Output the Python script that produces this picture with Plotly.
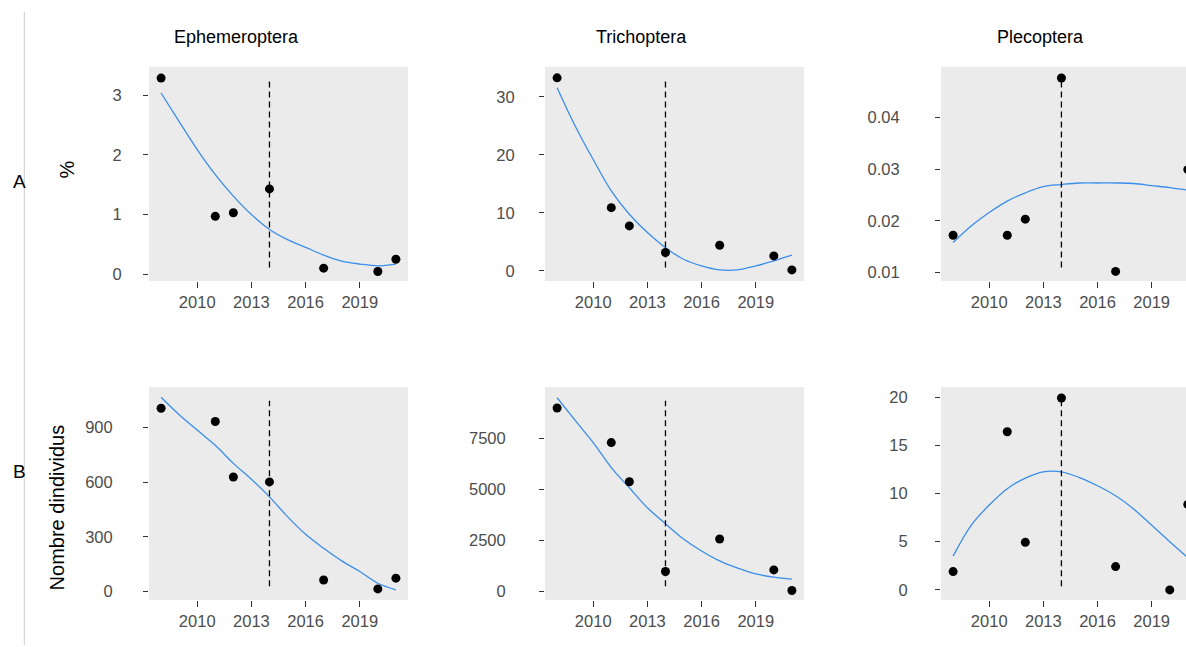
import plotly.graph_objects as go

# ---------------- data ----------------
years = [2008, 2011, 2012, 2014, 2017, 2020, 2021]
ephem_pct = [3.29, 0.97, 1.03, 1.43, 0.10, 0.045, 0.25]
trich_pct = [33.3, 10.9, 7.75, 3.16, 4.42, 2.58, 0.17]
pleco_pct = [0.0172, 0.0172, 0.0203, 0.0476, 0.0102, None, 0.0299]
ephem_n = [1007, 934, 629, 602, 63, 14, 73]
trich_n = [9002, 7305, 5382, 978, 2573, 1057, 49]
pleco_n = [1.9, 16.4, 4.93, 19.9, 2.42, 0.0, 8.86]

fit_years = [2008, 2009, 2010, 2011, 2012, 2013, 2014, 2015, 2016, 2017, 2018, 2019, 2020, 2021]
ephem_pct_fit = [3.04, 2.56, 2.09, 1.67, 1.31, 1.00, 0.75, 0.58, 0.45, 0.32, 0.22, 0.17, 0.14, 0.17]
trich_pct_fit = [31.6, 25.0, 19.2, 13.8, 9.76, 6.6, 4.0, 2.0, 0.86, 0.17, 0.17, 0.86, 1.72, 2.7]
pleco_pct_fit = [0.0158, 0.0190, 0.0216, 0.0238, 0.0254, 0.0266, 0.0270, 0.0273, 0.0273, 0.0273,
                 0.0272, 0.0268, 0.0264, 0.0259]
ephem_n_fit = [1067, 971, 887, 803, 704, 617, 520, 411, 314, 237, 168, 110, 45, 9]
trich_n_fit = [9506, 8395, 7305, 6081, 5088, 4110, 3327, 2573, 1986, 1497, 1140, 861, 700, 602]
pleco_n_fit = [3.5, 6.7, 8.8, 10.5, 11.6, 12.25, 12.25, 11.65, 10.8, 9.76, 8.4, 6.7, 5.0, 3.35]

break_year = 2014
x_ticks = [2010, 2013, 2016, 2019]
col_titles = ["Ephemeroptera", "Trichoptera", "Plecoptera"]
row_labels = ["A", "B"]
y_titles = ["%", "Nombre dindividus"]

y_ticks = [
    [0, 1, 2, 3],
    [0, 10, 20, 30],
    [0.01, 0.02, 0.03, 0.04],
    [0, 300, 600, 900],
    [0, 2500, 5000, 7500],
    [0, 5, 10, 15, 20],
]
y_ticktext = [
    ["0", "1", "2", "3"],
    ["0", "10", "20", "30"],
    ["0.01", "0.02", "0.03", "0.04"],
    ["0", "300", "600", "900"],
    ["0", "2500", "5000", "7500"],
    ["0", "5", "10", "15", "20"],
]
y_ranges = [
    [-0.117, 3.48],
    [-1.77, 35.2],
    [0.00832, 0.04977],
    [-46, 1123],
    [-411, 10029],
    [-1.03, 21.03],
]
standoffs = [18, 21, 32, 27, 30, 24]

# ---------------- layout geometry ----------------
W, H = 1186, 647
col_px = [(149, 408), (545, 804), (941, 1186)]
x_ranges = [[2007.33, 2021.67], [2007.33, 2021.67], [2007.33, 2020.9]]
row_px = [(67, 282), (388.3, 601.7)]

FONT = "Liberation Sans, Arial, sans-serif"
BLUE = "#3A8EEB"

panels = [
    (ephem_pct, ephem_pct_fit),
    (trich_pct, trich_pct_fit),
    (pleco_pct, pleco_pct_fit),
    (ephem_n, ephem_n_fit),
    (trich_n, trich_n_fit),
    (pleco_n, pleco_n_fit),
]

fig = go.Figure()
layout = dict(
    width=W, height=H,
    margin=dict(l=0, r=0, t=0, b=0),
    paper_bgcolor="white",
    plot_bgcolor="#EBEBEB",
    showlegend=False,
    font=dict(family=FONT, size=16, color="#4D4D4D"),
)
shapes = []
annotations = []

for i, (obs, fit) in enumerate(panels):
    r, c = divmod(i, 3)
    k = i + 1
    xa = "x" if k == 1 else f"x{k}"
    ya = "y" if k == 1 else f"y{k}"
    fig.add_trace(go.Scatter(
        x=fit_years, y=fit, mode="lines", xaxis=xa, yaxis=ya,
        line=dict(color=BLUE, width=1.3, shape="spline"), hoverinfo="skip"))
    fig.add_trace(go.Scatter(
        x=years, y=obs, mode="markers", xaxis=xa, yaxis=ya,
        marker=dict(color="black", size=9)))
    x0, x1 = col_px[c]
    y0, y1 = row_px[r]
    layout[f"xaxis{'' if k == 1 else k}"] = dict(
        domain=[x0 / W, x1 / W], range=x_ranges[c], anchor=ya,
        tickvals=x_ticks, ticktext=[str(t) for t in x_ticks],
        ticks="outside", ticklen=6, tickcolor="#333333", tickwidth=1,
        showgrid=False, zeroline=False, showline=False,
        tickfont=dict(family=FONT, size=16.5, color="#4D4D4D"),
    )
    layout[f"yaxis{'' if k == 1 else k}"] = dict(
        domain=[1 - y1 / H, 1 - y0 / H], range=y_ranges[i], anchor=xa,
        tickvals=y_ticks[i], ticktext=y_ticktext[i],
        ticks="outside", ticklen=5, tickcolor="#333333", tickwidth=1,
        ticklabelstandoff=standoffs[i],
        showgrid=False, zeroline=False, showline=False,
        tickfont=dict(family=FONT, size=16.5, color="#4D4D4D"),
    )
    shapes.append(dict(
        type="line", xref=xa, yref=f"{ya} domain",
        x0=break_year, x1=break_year, y0=0.064, y1=0.936,
        line=dict(color="black", width=1.3, dash="6px,4px"), layer="above"))

# column titles
title_x = [236.5, 641.5, 1040]
for t, xc in zip(col_titles, title_x):
    annotations.append(dict(
        text=t, x=xc / W, y=1 - 37 / H, xref="paper", yref="paper",
        showarrow=False, xanchor="center", yanchor="middle",
        font=dict(family=FONT, size=18, color="black")))

# row labels
for t, yc in zip(row_labels, [182, 473]):
    annotations.append(dict(
        text=t, x=19 / W, y=1 - yc / H, xref="paper", yref="paper",
        showarrow=False, xanchor="center", yanchor="middle",
        font=dict(family=FONT, size=19, color="black")))

# y titles
for t, xc, yc in zip(y_titles, [67, 57], [170, 509]):
    annotations.append(dict(
        text=t, x=xc / W, y=1 - yc / H, xref="paper", yref="paper",
        showarrow=False, xanchor="center", yanchor="middle", textangle=-90,
        font=dict(family=FONT, size=20, color="black")))

# separator line
shapes.append(dict(
    type="line", xref="paper", yref="paper",
    x0=24.3 / W, x1=24.3 / W, y0=0, y1=1 - 11.7 / H,
    line=dict(color="#CCCCCC", width=1)))

layout["shapes"] = shapes
layout["annotations"] = annotations
fig.update_layout(**layout)
fig.write_html(
    "out.html",
    config={"displayModeBar": False},
    post_script="document.body.style.margin='0';document.body.style.overflow='hidden';",
)
